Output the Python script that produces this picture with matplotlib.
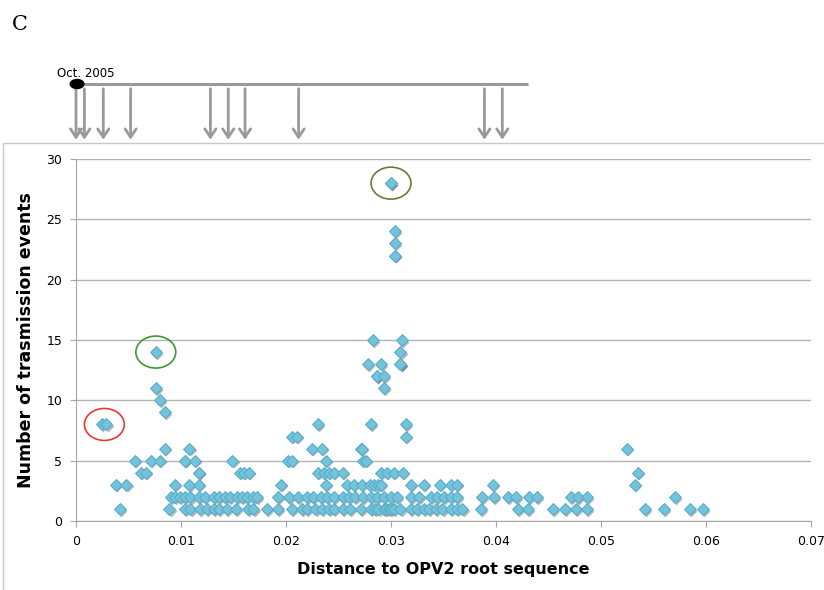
import matplotlib
matplotlib.use("Agg")
import matplotlib.pyplot as plt
import matplotlib.transforms as mtransforms
from matplotlib.patches import Ellipse, Rectangle
import numpy as np

# distancias (x) agrupadas por numero de eventos de transmision (y)
dist_1 = [0.0042, 0.0089, 0.0104, 0.0109, 0.0118, 0.0125, 0.0131, 0.0136, 0.0144, 0.0152,
          0.0164, 0.0169, 0.0182, 0.0192, 0.0206, 0.0215, 0.0220, 0.0228, 0.0234, 0.0241,
          0.0246, 0.0254, 0.0261, 0.0271, 0.0281, 0.0285, 0.0288, 0.0293, 0.0295, 0.0298,
          0.0300, 0.0303, 0.0309, 0.0319, 0.0325, 0.0331, 0.0336, 0.0343, 0.0349, 0.0357,
          0.0363, 0.0368, 0.0386, 0.0421, 0.0430, 0.0454, 0.0466, 0.0476, 0.0487, 0.0542,
          0.0560, 0.0585, 0.0597]
dist_2 = [0.0090, 0.0094, 0.0099, 0.0104, 0.0109, 0.0117, 0.0123, 0.0131, 0.0136, 0.0142,
          0.0147, 0.0153, 0.0158, 0.0163, 0.0169, 0.0172, 0.0192, 0.0203, 0.0211, 0.0220,
          0.0226, 0.0233, 0.0239, 0.0246, 0.0254, 0.0260, 0.0266, 0.0273, 0.0281, 0.0287,
          0.0293, 0.0300, 0.0306, 0.0319, 0.0327, 0.0338, 0.0344, 0.0350, 0.0357, 0.0363,
          0.0387, 0.0398, 0.0411, 0.0419, 0.0431, 0.0439, 0.0471, 0.0478, 0.0487, 0.0570]
dist_3 = [0.0038, 0.0048, 0.0094, 0.0108, 0.0117, 0.0195, 0.0238, 0.0258, 0.0265, 0.0272,
          0.0280, 0.0284, 0.0288, 0.0290, 0.0319, 0.0331, 0.0347, 0.0357, 0.0363, 0.0397,
          0.0532]
dist_4 = [0.0062, 0.0067, 0.0117, 0.0117, 0.0156, 0.0160, 0.0165, 0.0230, 0.0236, 0.0241,
          0.0246, 0.0254, 0.0290, 0.0296, 0.0303, 0.0311, 0.0535]
dist_5 = [0.0056, 0.0071, 0.0080, 0.0104, 0.0104, 0.0113, 0.0149, 0.0202, 0.0206, 0.0238,
          0.0273, 0.0276]
dist_6 = [0.0085, 0.0108, 0.0225, 0.0234, 0.0271, 0.0272, 0.0525]
dist_7 = [0.0206, 0.0210, 0.0314]
dist_8 = [0.0025, 0.0029, 0.0230, 0.0281, 0.0314]
dist_9 = [0.0085]
dist_10 = [0.0080]
dist_11 = [0.0076, 0.0293]
dist_12 = [0.0287, 0.0287, 0.0293]
dist_13 = [0.0278, 0.0290, 0.0309, 0.0309]
dist_14 = [0.0076, 0.0309]
dist_15 = [0.0283, 0.0310]
dist_22 = [0.0304, 0.0304]
dist_23 = [0.0304]
dist_24 = [0.0304]
dist_28 = [0.0300, 0.0300]

groups = {1: dist_1, 2: dist_2, 3: dist_3, 4: dist_4, 5: dist_5, 6: dist_6, 7: dist_7,
          8: dist_8, 9: dist_9, 10: dist_10, 11: dist_11, 12: dist_12, 13: dist_13,
          14: dist_14, 15: dist_15, 22: dist_22, 23: dist_23, 24: dist_24, 28: dist_28}

# linea de tiempo de muestras (flechas), en la escala del eje x
sample_times = [0.0, 0.0008, 0.0026, 0.0052, 0.0128, 0.0145, 0.0161, 0.0212, 0.0389, 0.0406]
timeline_end = 0.043

# puntos destacados con elipses: (x, y, color)
highlights = [(0.0027, 8, "#e8382f"), (0.0076, 14, "#3e9a2e"), (0.0300, 28, "#6b7a3a")]

x = np.concatenate([groups[k] for k in groups])
y = np.concatenate([[k] * len(groups[k]) for k in groups])

fig = plt.figure(figsize=(8.24, 5.9), dpi=100)
W, H = 824, 590

# marco gris alrededor del grafico
fig.patches.append(Rectangle((3 / W, -0.05), 1.0, 1 - 143 / H + 0.05, transform=fig.transFigure,
                             fill=False, edgecolor="#c8c8c8", linewidth=1.0))

ax = fig.add_axes([76 / W, 1 - 521 / H, (811 - 76) / W, (521 - 159) / H])

# sombra de los marcadores
shadow = mtransforms.offset_copy(ax.transData, fig=fig, x=0.8, y=-1.2, units="points")
ax.scatter(x, y, marker="D", s=36, color="#333333", alpha=0.35, linewidths=0,
           transform=shadow, zorder=3)
ax.scatter(x, y, marker="D", s=36, color="#74c3da", edgecolors="#58aecb", linewidths=0.8,
           zorder=4)

for hx, hy, col in highlights:
    ax.add_patch(Ellipse((hx, hy), 0.0038, 2.65, fill=False, edgecolor=col, linewidth=1.2,
                         zorder=5))

ax.set_xlim(0, 0.07)
ax.set_ylim(0, 30)
ax.set_xticks(np.arange(0, 0.071, 0.01))
ax.set_xticklabels(["0", "0.01", "0.02", "0.03", "0.04", "0.05", "0.06", "0.07"])
ax.set_yticks(range(0, 31, 5))
ax.yaxis.grid(True, color="#b3b3b3", linewidth=1.0)
ax.set_axisbelow(True)
for s in ["top", "right"]:
    ax.spines[s].set_visible(False)
for s in ["left", "bottom"]:
    ax.spines[s].set_color("#a6a6a6")
ax.tick_params(axis="both", colors="#a6a6a6", labelcolor="black", labelsize=9, length=4)
ax.tick_params(axis="y", pad=6)
ax.tick_params(axis="x", pad=6)

ax.set_xlabel("Distance to OPV2 root sequence", fontsize=11.5, fontweight="bold", labelpad=10)
ax.set_ylabel("Number of trasmission events", fontsize=12.5, fontweight="bold", labelpad=8)

# linea de tiempo arriba
tax = fig.add_axes([76 / W, 1 - 143 / H, (811 - 76) / W, (143 - 70) / H], sharex=ax)
tax.set_ylim(0, 73)
tax.axis("off")
tax.plot([0, timeline_end], [59, 59], color="#999999", linewidth=2.2, solid_capstyle="butt")
for t in sample_times:
    tax.annotate("", xy=(t, 0.5), xytext=(t, 57),
                 arrowprops=dict(arrowstyle="->,head_length=0.6,head_width=0.4",
                                 color="#999999", linewidth=2.0))
tax.add_patch(Ellipse((0.0001, 59), 0.0013, 9, color="black", zorder=5, clip_on=False))
tax.text(0.0009, 63, "Oct. 2005", fontsize=8.5, ha="center", va="bottom")
ax.set_xlim(0, 0.07)

fig.text(12 / W, 1 - 25 / H, "C", fontsize=15, family="DejaVu Serif", va="center")

fig.savefig("out.png", dpi=100)
